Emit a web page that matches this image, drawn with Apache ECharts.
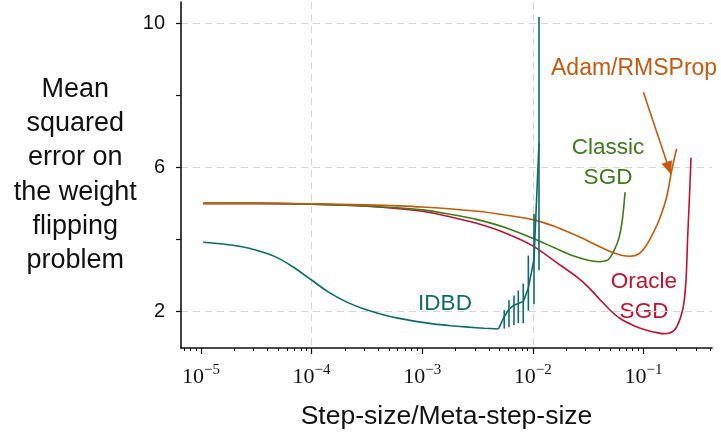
<!DOCTYPE html>
<html>
<head>
<meta charset="utf-8">
<script src="https://cdn.jsdelivr.net/npm/echarts@6/dist/echarts.min.js"></script>
<style>
  html, body { margin: 0; padding: 0; background: #fff; }
  #main { width: 721px; height: 438px; }
</style>
</head>
<body>
<div id="main"></div>
<script>
// x values are log10 of the step-size
// IDBD: smooth part up to its minimum, then the noisy part with error bars
const idbdX = [-4.98, -4.8, -4.64, -4.49, -4.33, -4.17, -4.0, -3.85, -3.69, -3.53, -3.37, -3.22, -3.06, -2.9, -2.74, -2.58, -2.44, -2.31];
const idbdY = [3.92, 3.87, 3.80, 3.69, 3.52, 3.24, 2.87, 2.54, 2.27, 2.07, 1.92, 1.81, 1.72, 1.65, 1.6, 1.56, 1.53, 1.51];
const idbdTailX = [-2.31, -2.258, -2.215, -2.17, -2.131, -2.086, -2.04, -1.989, -1.944];
const idbdTailY = [1.51, 1.85, 2.06, 2.17, 2.22, 2.27, 2.65, 3.45, 6.67];
const errX = [-2.258, -2.215, -2.17, -2.131, -2.086, -2.04, -1.989, -1.944];
const errLow = [1.52, 1.56, 1.61, 1.67, 1.67, 2.02, 2.2, 3.14];
const errHigh = [2.03, 2.31, 2.44, 2.58, 2.77, 3.55, 4.71, 10.18];

const oracleX = [-4.98, -4.5, -4.0, -3.5, -3.0, -2.75, -2.5, -2.25, -2.0, -1.75, -1.6, -1.5, -1.4, -1.3, -1.21, -1.1, -1.0, -0.9, -0.82, -0.76, -0.70, -0.64, -0.615, -0.60, -0.58, -0.57];
const oracleY = [5.0, 5.0, 4.98, 4.92, 4.78, 4.63, 4.44, 4.18, 3.82, 3.28, 2.95, 2.68, 2.35, 2.03, 1.80, 1.62, 1.50, 1.42, 1.38, 1.40, 1.56, 2.12, 2.86, 4.06, 5.45, 6.27];

const classicX = [-4.98, -4.5, -4.0, -3.5, -3.0, -2.75, -2.5, -2.25, -2.0, -1.8, -1.65, -1.5, -1.4, -1.33, -1.3, -1.26, -1.22, -1.19, -1.166];
const classicY = [5.0, 5.0, 4.98, 4.93, 4.82, 4.70, 4.55, 4.33, 4.03, 3.76, 3.56, 3.42, 3.38, 3.41, 3.50, 3.72, 4.05, 4.55, 5.31];

const adamX = [-4.98, -4.5, -4.0, -3.5, -3.0, -2.5, -2.25, -2.0, -1.8, -1.6, -1.45, -1.3, -1.2, -1.12, -1.04, -0.97, -0.90, -0.85, -0.79, -0.744, -0.70];
const adamY = [5.0, 5.0, 4.99, 4.96, 4.90, 4.78, 4.68, 4.55, 4.36, 4.10, 3.88, 3.66, 3.56, 3.53, 3.60, 3.85, 4.25, 4.60, 5.18, 5.92, 6.52];

const xMajor = [-5, -4, -3, -2, -1];
const xGrid = [-4, -2];
const yLabels = [2, 6, 10];
const yMinor = [4, 8];

const teal = '#0f6b6b', orange = '#c45a10', green = '#3d7a1b', red = '#c1122f';
const sans = 'Liberation Sans';

// minor ticks at 2..9 x 10^n
const xMinor = [];
for (let n = -6; n <= -1; n++) {
  for (let k = 2; k <= 9; k++) {
    const v = n + Math.log10(k);
    if (v > -5.18 && v < -0.38) xMinor.push(v);
  }
}

function pairs(xs, ys) {
  return xs.map(function (x, i) { return [x, ys[i]]; });
}

const chart = echarts.init(document.getElementById('main'), null, {renderer: 'canvas'});

const baseX = {
  type: 'value', min: -5.18, max: -0.38, position: 'bottom',
  axisLine: {show: false}, axisLabel: {show: false}, axisTick: {show: false}, splitLine: {show: false}
};
const baseY = {
  type: 'value', min: 0.98, max: 10.6, position: 'left',
  axisLine: {show: false}, axisLabel: {show: false}, axisTick: {show: false}, splitLine: {show: false}
};

function curve(name, xs, ys, color) {
  return {
    name: name, type: 'line', data: pairs(xs, ys), showSymbol: false, smooth: 0.3,
    lineStyle: {color: color, width: 1.6}, z: 2
  };
}

const adam = curve('Adam/RMSProp', adamX, adamY, orange);
adam.markLine = {
  silent: true, animation: false, symbol: ['none', 'triangle'], symbolSize: [11, 13],
  label: {show: false},
  lineStyle: {color: orange, width: 1.6, type: 'solid'},
  data: [[{coord: [-1.0, 8.09]}, {coord: [-0.77, 5.98]}]]
};

const option = {
  animation: false,
  backgroundColor: '#fff',
  grid: {left: 181, right: 9, top: 2, bottom: 90, containLabel: false, outerBoundsMode: 'none'},
  xAxis: [
    Object.assign({}, baseX, {
      axisLine: {show: true, onZero: false, lineStyle: {color: '#111', width: 1.6}},
      axisTick: {show: true, customValues: xMajor, length: 6, lineStyle: {color: '#111', width: 1.2}},
      axisLabel: {
        show: true, customValues: xMajor, margin: 15,
        formatter: function (v) { return '{b|10}{s|\u2212' + Math.abs(v) + '}'; },
        rich: {
          b: {fontFamily: 'Liberation Serif', fontSize: 22, color: '#111', lineHeight: 28},
          s: {fontFamily: 'Liberation Serif', fontSize: 15, color: '#111', lineHeight: 15, verticalAlign: 'top'}
        }
      },
      name: 'Step-size/Meta-step-size', nameLocation: 'middle', nameGap: 55,
      nameTextStyle: {fontFamily: sans, fontSize: 26.5, color: '#111'}
    }),
    Object.assign({}, baseX, {
      axisTick: {show: false, customValues: xGrid},
      splitLine: {show: true, lineStyle: {color: '#d6d6d6', width: 1, type: [7, 5]}}
    }),
    Object.assign({}, baseX, {
      axisTick: {show: true, customValues: xMinor, length: 3, lineStyle: {color: '#111', width: 1}}
    })
  ],
  yAxis: [
    Object.assign({}, baseY, {
      axisLine: {show: true, onZero: false, lineStyle: {color: '#111', width: 1.6}},
      axisTick: {show: true, customValues: yLabels, length: 5, lineStyle: {color: '#111', width: 1.2}},
      axisLabel: {show: true, customValues: yLabels, margin: 16, fontFamily: sans, fontSize: 20, color: '#111'},
      splitLine: {show: true, lineStyle: {color: '#d6d6d6', width: 1, type: [7, 5]}},
      name: 'Mean\nsquared\nerror on\nthe weight\nflipping\nproblem',
      nameLocation: 'middle', nameRotate: 0, nameGap: 95,
      nameTextStyle: {fontFamily: sans, fontSize: 27, color: '#111', lineHeight: 34.3, align: 'center', verticalAlign: 'middle', padding: [14, 0, 0, 0]}
    }),
    Object.assign({}, baseY, {
      axisTick: {show: true, customValues: yMinor, length: 5, lineStyle: {color: '#111', width: 1.2}}
    })
  ],
  series: [
    {
      name: 'IDBD', type: 'line', data: pairs(idbdX, idbdY), showSymbol: false, smooth: 0.3,
      lineStyle: {color: teal, width: 1.6}, z: 3
    },
    {
      name: 'IDBD tail', type: 'line', data: pairs(idbdTailX, idbdTailY), showSymbol: false,
      lineStyle: {color: teal, width: 1.6}, z: 3
    },
    {
      name: 'IDBD error', type: 'custom', data: errX.map(function (x, i) { return [x, errLow[i], errHigh[i]]; }),
      renderItem: function (params, api) {
        const p1 = api.coord([api.value(0), api.value(1)]);
        const p2 = api.coord([api.value(0), api.value(2)]);
        return {type: 'line', shape: {x1: p1[0], y1: p1[1], x2: p2[0], y2: p2[1]}, style: {stroke: teal, lineWidth: 1.6}};
      },
      z: 3
    },
    curve('Oracle SGD', oracleX, oracleY, red),
    curve('Classic SGD', classicX, classicY, green),
    adam
  ],
  graphic: [
    {type: 'text', left: 551, top: 57, style: {text: 'Adam/RMSProp', fill: orange, font: '23px "Liberation Sans"'}},
    {type: 'text', x: 608, y: 133, style: {text: 'Classic\nSGD', fill: green, font: '22.5px "Liberation Sans"', align: 'center', lineHeight: 30}},
    {type: 'text', x: 644, y: 267, style: {text: 'Oracle\nSGD', fill: red, font: '22.5px "Liberation Sans"', align: 'center', lineHeight: 30}},
    {type: 'text', x: 445, y: 292, style: {text: 'IDBD', fill: teal, font: '22.5px "Liberation Sans"', align: 'center'}}
  ]
};

chart.setOption(option);
</script>
</body>
</html>
